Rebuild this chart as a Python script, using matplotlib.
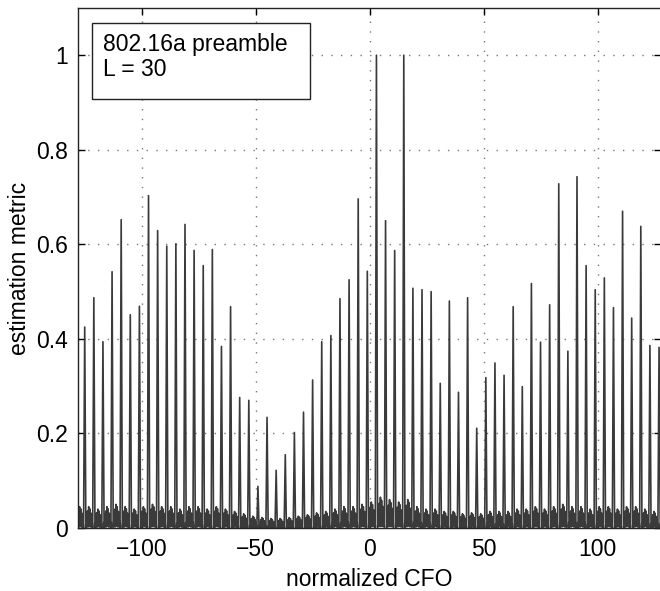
import matplotlib
matplotlib.use('Agg')
import matplotlib.pyplot as plt
from matplotlib.patches import Rectangle

# peak heights of the estimation metric, one every 4 bins starting at -125
peakStart = -125
peakStep = 4
peaks = [0.425, 0.487, 0.394, 0.542, 0.652, 0.451, 0.469, 0.703,
         0.629, 0.596, 0.601, 0.642, 0.587, 0.555, 0.589, 0.384,
         0.468, 0.276, 0.270, 0.088, 0.234, 0.122, 0.155, 0.202,
         0.245, 0.313, 0.394, 0.407, 0.485, 0.525, 0.696, 0.543,
         1.000, 0.650, 0.587, 1.000, 0.507, 0.504, 0.500, 0.306,
         0.480, 0.287, 0.487, 0.211, 0.318, 0.349, 0.323, 0.468,
         0.299, 0.517, 0.393, 0.472, 0.728, 0.374, 0.743, 0.555,
         0.504, 0.529, 0.466, 0.670, 0.444, 0.638, 0.386, 0.382]

# sidelobe level in the gap after each peak
floorLevel = [0.045, 0.040, 0.045, 0.050, 0.045, 0.040, 0.045, 0.050,
              0.045, 0.045, 0.040, 0.045, 0.045, 0.040, 0.045, 0.040,
              0.035, 0.030, 0.025, 0.022, 0.020, 0.020, 0.022, 0.025,
              0.028, 0.032, 0.035, 0.040, 0.045, 0.045, 0.050, 0.055,
              0.065, 0.060, 0.055, 0.060, 0.045, 0.040, 0.040, 0.035,
              0.035, 0.030, 0.032, 0.030, 0.035, 0.035, 0.035, 0.040,
              0.040, 0.045, 0.040, 0.045, 0.050, 0.045, 0.045, 0.040,
              0.045, 0.045, 0.040, 0.045, 0.045, 0.040, 0.035, 0.035]
leadLevel = 0.045

# shape of the sidelobes between two peaks (quarter-bin samples, from +0.5 to +3.5)
gapShape = [0.02, 0.30, 0.05, 0.80, 0.05, 1.00, 0.08,
            0.90, 0.05, 0.70, 0.05, 0.30, 0.02]

def buildCurve():
    x = []
    y = []
    for j in range(2, len(gapShape)):
        x.append(peakStart - peakStep + 0.5 + 0.25 * j)
        y.append(leadLevel * gapShape[j])
    for i in range(len(peaks)):
        c = peakStart + peakStep * i
        x.append(c)
        y.append(peaks[i])
        for j in range(len(gapShape)):
            xj = c + 0.5 + 0.25 * j
            if xj > 128:
                break
            x.append(xj)
            y.append(floorLevel[i] * gapShape[j])
    return x, y

def main():
    plt.rcParams['font.family'] = ['Liberation Sans', 'DejaVu Sans']
    x, y = buildCurve()

    fig = plt.figure(figsize=(6.6, 5.91), dpi=100)
    ax = fig.add_axes([0.118, 0.1066, 0.884, 0.88])
    ax.plot(x, y, color='#3a3a3a', linewidth=1.2)
    ax.set_xlim(-128, 128)
    ax.set_ylim(0, 1.1)
    ax.set_xticks([-100, -50, 0, 50, 100])
    ax.set_xticklabels(['\u2212100', '\u221250', '0', '50', '100'])
    ax.set_yticks([0, 0.2, 0.4, 0.6, 0.8, 1.0])
    ax.set_yticklabels(['0', '0.2', '0.4', '0.6', '0.8', '1'])
    ax.grid(True, color='#777777', linestyle=(0, (1, 6)), linewidth=1.0)
    ax.tick_params(axis='both', which='major', direction='in', length=5,
                   top=True, right=True, labelsize=16.5, pad=7, width=1.0)
    for s in ax.spines.values():
        s.set_linewidth(1.0)
        s.set_color('#222222')
    ax.set_xlabel('normalized CFO', fontsize=16.5, labelpad=5)
    ax.set_ylabel('estimation metric', fontsize=16.5, labelpad=4)

    box = Rectangle((0.024, 0.825), 0.374, 0.146, transform=ax.transAxes,
                    facecolor='white', edgecolor='#222222', linewidth=1.0, zorder=5)
    ax.add_patch(box)
    ax.text(0.043, 0.952, '802.16a preamble\nL = 30', transform=ax.transAxes,
            fontsize=16.5, va='top', ha='left', linespacing=1.12, zorder=6)

    fig.savefig('out.png', dpi=100)

main()
